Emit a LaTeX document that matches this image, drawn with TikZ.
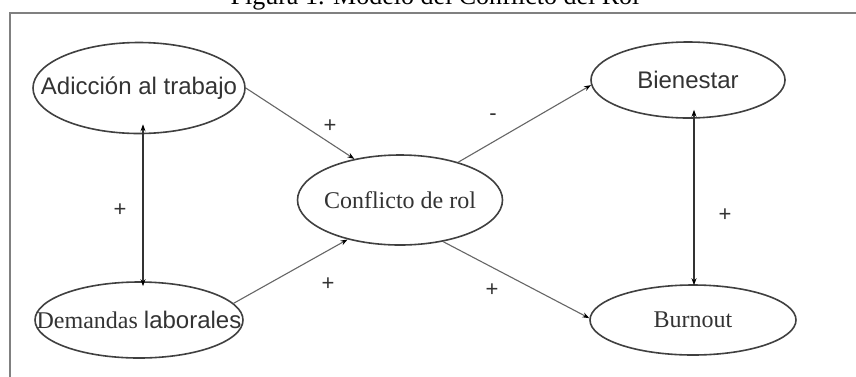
\documentclass[tikz,border=0pt]{standalone}
\usepackage{fontspec}
\setmainfont{Liberation Serif}
\setsansfont{Liberation Sans}
\usetikzlibrary{shapes.geometric,arrows.meta}
\begin{document}
\begin{tikzpicture}[x=1pt,y=-1pt,
  oval/.style={ellipse,draw=black!75,line width=1.6pt,inner sep=0pt},
  sanslab/.style={font=\sffamily\fontsize{24}{28}\selectfont,text=black!80},
  seriflab/.style={font=\rmfamily\fontsize{24}{28}\selectfont,text=black!80},
  link/.style={draw=black!60,line width=1.1pt,-{Stealth[length=7pt,width=5pt,black]}},
  dlink/.style={draw=black!80,line width=1.2pt,{Stealth[length=7pt,width=5pt,black]}-{Stealth[length=7pt,width=5pt,black]}},
  sign/.style={font=\sffamily\fontsize{22}{24}\selectfont,text=black!80}]
\useasboundingbox (0,0) rectangle (856,376);
\clip (0,0) rectangle (856,376);
\fill[white] (0,0) rectangle (856,376);
% title (cut off at the top, as in the reference)
\node[anchor=base,font=\rmfamily\fontsize{26}{30}\selectfont] (title) at (435,4) {Figura 1. Modelo del Conflicto del Rol};
% frame
\draw[draw=black!50,line width=2pt] (10,380) -- (10,12.5) -- (860,12.5);
% nodes
\node[oval,minimum width=212pt,minimum height=91pt,label={[sanslab]center:Adicción al trabajo}] (adic) at (139,88) {};
\node[oval,minimum width=208pt,minimum height=76pt,label={[text=black!80]center:{\rmfamily\fontsize{24}{28}\selectfont Demandas \sffamily laborales}}] (dem) at (139,320) {};
\node[oval,minimum width=205pt,minimum height=90pt,label={[seriflab]center:Conflicto de rol}] (conf) at (400,200) {};
\node[oval,minimum width=194pt,minimum height=76pt,label={[sanslab]center:Bienestar}] (bien) at (688,80) {};
\node[oval,minimum width=206pt,minimum height=70pt,label={[seriflab]center:Burnout}] (burn) at (693,320) {};
% connectors
\draw[link] (adic.east) -- (conf.138);
\draw[link] (dem.10) -- (conf.217);
\draw[link] (conf.33) -- (bien.183);
\draw[link] (conf.316) -- (burn.179);
\draw[dlink] ([xshift=4pt,yshift=10pt]adic.south) -- ([xshift=4pt,yshift=-5pt]dem.north);
\draw[dlink] ([xshift=6pt,yshift=9pt]bien.south) -- ([xshift=1pt,yshift=-1pt]burn.north);
% signs
\node[sign] (s1) at (330,126) {+};
\node[sign] (s2) at (120,210) {+};
\node[sign] (s3) at (328,284) {+};
\node[sign] (s4) at (493,117) {-};
\node[sign] (s5) at (725,215) {+};
\node[sign] (s6) at (492,290) {+};
\end{tikzpicture}
\end{document}
